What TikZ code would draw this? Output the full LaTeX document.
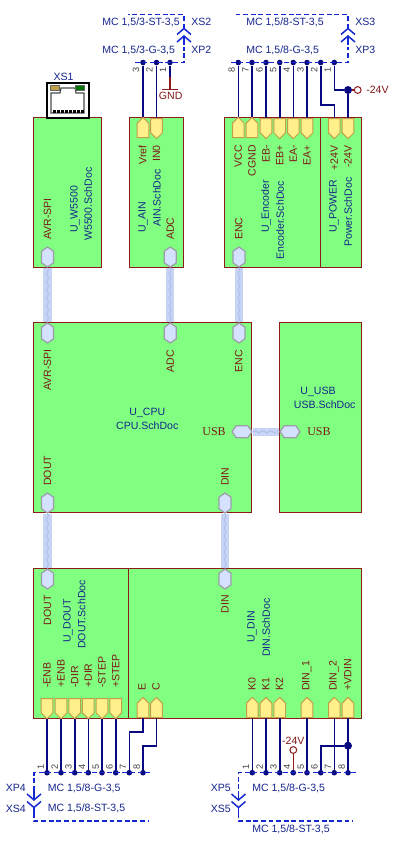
\documentclass[tikz,border=0pt]{standalone}
\usepackage{fontspec}
\setmainfont{Liberation Sans}
\newfontfamily\serifport{Liberation Serif}
\usetikzlibrary{arrows.meta, calc, shapes.symbols, decorations.pathmorphing}
\definecolor{sheetgreen}{HTML}{80FF80}
\definecolor{sheetred}{HTML}{8E1A1A}
\definecolor{pinyellow}{HTML}{FFF08C}
\definecolor{pinedge}{HTML}{C0A048}
\definecolor{hexfill}{HTML}{D4E2FF}
\definecolor{hexedge}{HTML}{9C9CA8}
\definecolor{bundle}{HTML}{C8D4F6}
\definecolor{bundlelay}{HTML}{AEBBE8}
\definecolor{wirenavy}{HTML}{0A0A80}
\definecolor{dashblue}{HTML}{1428D2}
\definecolor{textnavy}{HTML}{14248C}
\definecolor{textred}{HTML}{7E1616}

\begin{document}
\begin{tikzpicture}[x=0.025cm, y=-0.025cm, font=\fontsize{7.5}{9}\selectfont,
  sheet/.style={draw=sheetred, fill=sheetgreen, line width=0.25mm, inner sep=0pt},
  pinup/.style={shape=signal, signal to=north, draw=pinedge, fill=pinyellow, line width=0.25mm,
    minimum width=2.9mm, minimum height=3.6mm, inner sep=0pt, anchor=south},
  pindown/.style={pinup, signal to=south, anchor=north},
  hexv/.style={shape=signal, signal to=north and south, signal pointer angle=110, draw=hexedge, fill=hexfill,
    line width=0.3mm, minimum width=3mm, minimum height=2.9mm, inner sep=0pt},
  hexh/.style={hexv, signal to=east and west, minimum width=5mm, minimum height=3mm},
  lab/.style={text=textred, rotate=90, inner sep=0pt},
  labend/.style={lab, anchor=east},
  labstart/.style={lab, anchor=west},
  des/.style={text=textnavy, inner sep=0pt},
  desv/.style={des, rotate=90, anchor=west},
  pnum/.style={font=\fontsize{6.5}{8}\selectfont, text=black!75, rotate=90, inner sep=0pt},
  jn/.style={circle, fill=wirenavy, minimum size=1.4mm, inner sep=0pt},
  jnbig/.style={jn, minimum size=2mm},
  opn/.style={circle, draw=sheetred, fill=white, line width=0.25mm, minimum size=1.7mm, inner sep=0pt},
  wire/.style={draw=wirenavy, line width=0.4mm},
  rwire/.style={draw=sheetred, line width=0.3mm},
  conbus/.style={draw=dashblue, line width=0.37mm, dash pattern=on 1.2mm off 0.7mm},
  conmark/.style={draw=dashblue, line width=0.37mm},
  harness/.style={draw=bundle, line width=2mm},
  harnesscore/.style={draw=bundlelay, line width=0.2mm, decorate,
    decoration={zigzag, amplitude=0.25mm, segment length=2mm}}]

\useasboundingbox (0,0) rectangle (400,842);

%% ===================== sheets =====================
\node[sheet, minimum width=16.9mm, minimum height=37.4mm] (w5500) at (67.25,192.75) {};
\node[sheet, minimum width=13.5mm, minimum height=37.4mm] (ain) at (156.5,192.75) {};
\node[sheet, minimum width=23.75mm, minimum height=37.4mm] (enc) at (272.5,192.75) {};
\node[sheet, minimum width=10.35mm, minimum height=37.4mm] (power) at (340.75,192.75) {};
\node[sheet, minimum width=54.6mm, minimum height=47.6mm] (cpu) at (142.75,417.75) {};
\node[sheet, minimum width=20.5mm, minimum height=47.6mm] (usb) at (320.5,417.75) {};
\node[sheet, minimum width=23.9mm, minimum height=37.4mm] (dout) at (81.25,643.25) {};
\node[sheet, minimum width=58.2mm, minimum height=37.4mm] (din) at (245.25,643.25) {};

%% ===================== hexagon ports =====================
\node[hexv] (pavrw) at (47.5,257) {};
\node[hexv] (padca) at (170.3,257) {};
\node[hexv] (pence) at (239,257) {};
\node[hexv] (pavrc) at (47.5,333) {};
\node[hexv] (padcc) at (170.3,333) {};
\node[hexv] (pencc) at (239,333) {};
\node[hexv] (pdoutc) at (47.5,503) {};
\node[hexv] (pdinc) at (225,503) {};
\node[hexv] (pdoutd) at (47.5,579) {};
\node[hexv] (pdind) at (225,579) {};
\node[hexh] (pusbc) at (242,431.7) {};
\node[hexh] (pusbu) at (290,431.7) {};

%% bundles between the sheets
\foreach \a/\b in {pavrw/pavrc, padca/padcc, pence/pencc, pdoutc/pdoutd, pdinc/pdind}{
  \draw[harness] (\a.south) -- (\b.north);
  \draw[harnesscore] (\a.south) -- (\b.north);
}
\draw[harness] (pusbc.east) -- (pusbu.west);
\draw[harnesscore] (pusbc.east) -- (pusbu.west);

%% ===================== W5500 =====================
\node[labstart] (tavrw) at (47.5,240) {AVR-SPI};
\node[desv] (dw1) at (75,233) {U\_W5500};
\node[desv] (dw2) at (88,241) {W5500.SchDoc};
\node[des, text=textnavy] (xs1) at (63.5,77) {XS1};

% jack
\node[draw=black, fill=white, line width=0.4mm, minimum width=10.5mm, minimum height=8.6mm, inner sep=0pt] (jack) at (67.8,100.5) {};
\draw[black!70, line width=0.3mm] (51,113) -- (51,93) -- (60,93) -- (61,88) -- (75,88) -- (76,93) -- (84,93) -- (84,113) -- cycle;
\fill[pinedge, draw=black!60, line width=0.1mm] (50,85.5) rectangle (59,90);
\fill[green!45!black, draw=black!60, line width=0.1mm] (75.5,85.5) rectangle (84.5,90);
\foreach \x in {53,57,...,81}{\fill[black] (\x,110) rectangle +(3,2.5);}

%% ===================== AIN =====================
\node[pinup] (pvref) at (143,138) {};
\node[pindown] (pin0) at (156.5,118) {};
\node[labend] (tvref) at (142.7,145) {Vref};
\node[labend] (tin0) at (156.5,145) {IN0};
\node[labstart] (tadca) at (170.3,240) {ADC};
\node[desv] (da1) at (143,233) {U\_AIN};
\node[desv] (da2) at (156.8,227) {AIN.SchDoc};

\foreach \x/\n/\p in {143/3/pvref, 156.5/2/pin0}{
  \node[jn] (xpb\n) at (\x,62.5) {};
  \node[pnum] (nb\n) at (\x-7,70) {\n};
  \draw[wire] (xpb\n) -- (\p.north);
}
\node[jn] (xpb1) at (170,62.5) {};
\node[pnum] (nb1) at (163,70) {1};
\coordinate (gndtop) at (170,77);
\coordinate (gndbar) at (170,89.5);
\draw[wire] (xpb1) -- (gndtop);
\draw[rwire] (gndtop) -- (gndbar);
\draw[rwire] ([xshift=-0.19cm]gndbar) -- ([xshift=0.19cm]gndbar);
\node[des, text=textred] (gnd) at (170.7,96) {GND};

\coordinate (xpbl) at (135,62.5);
\coordinate (xpbr) at (184,62.5);
\coordinate (xstl) at (128,14.5);
\coordinate (xstr) at (184,14.5);
\coordinate (mxs2) at (184,28.5);
\coordinate (mxp2) at (184,36);
\draw[conbus] (xpbl) -- (xpbr) -- (184,47);
\draw[conbus] (mxs2) -- (xstr) -- (xstl);
\draw[conmark] ([shift={(-7,6)}]mxs2) -- (mxs2) -- ([shift={(7,6)}]mxs2);
\draw[conmark] ([shift={(-7,6)}]mxp2) -- (mxp2) -- ([shift={(7,6)}]mxp2);
\draw[conmark] (mxp2) -- ++(0,9);
\node[des, anchor=west] (l1) at (102,22) {MC 1,5/3-ST-3,5};
\node[des, anchor=west] (l2) at (102,50) {MC 1,5/3-G-3,5};
\node[des, anchor=west] (l3) at (191,22) {XS2};
\node[des, anchor=west] (l4) at (191,50) {XP2};

%% ===================== Encoder / Power =====================
\node[pinup] (pvcc) at (238.3,138) {};
\node[pinup] (pcgnd) at (252,138) {};
\foreach \x/\p/\t in {266/pebm/EB-, 279.7/pebp/EB+, 293.3/peam/EA-, 307/peap/EA+, 334.3/pp24/+24V, 348/pm24/-24V}{
  \node[pindown] (\p) at (\x,118) {};
}
\foreach \x/\p/\t in {238.3/pvcc/VCC, 252/pcgnd/CGND, 266/pebm/EB-, 279.7/pebp/EB+, 293.3/peam/EA-, 307/peap/EA+, 334.3/pp24/+24V, 348/pm24/-24V}{
  \node[labend] (t\p) at (\x,145) {\t};
}
\node[labstart] (tenc) at (238.7,240) {ENC};
\node[desv] (de1) at (266,233) {U\_Encoder};
\node[desv] (de2) at (280,260) {Encoder.SchDoc};
\node[desv] (dp1) at (334,233) {U\_POWER};
\node[desv] (dp2) at (348,247) {Power.SchDoc};

\foreach \x/\n in {238.3/8, 252/7, 266/6, 279.7/5, 293.3/4, 307/3, 320.7/2, 334.3/1}{
  \node[jn] (xpc\n) at (\x,62.5) {};
  \node[pnum] (nc\n) at (\x-6.5,70) {\n};
}
\foreach \n/\p in {8/pvcc, 7/pcgnd, 6/pebm, 5/pebp, 4/peam, 3/peap}{
  \draw[wire] (xpc\n) -- (\p.north);
}
\draw[wire] (xpc2) |- (334.3,105) -- (pp24.north);
\node[jnbig] (jm24) at (348,90) {};
\node[opn] (om24) at (357.7,90) {};
\draw[wire] (xpc1) |- (jm24);
\draw[wire] (jm24) -- (pm24.north);
\draw[rwire] (jm24) -- (om24);
\node[des, text=textred, anchor=west] (tm24) at (366,90) {-24V};

\coordinate (xpcl) at (231,62.5);
\coordinate (xpcr) at (348,62.5);
\coordinate (xtcr) at (348,14.5);
\coordinate (xtcl) at (233,14.5);
\coordinate (mxs3) at (348,28.5);
\coordinate (mxp3) at (348,36);
\draw[conbus] (xpcl) -- (xpcr) -- (348,47);
\draw[conbus] (mxs3) -- (xtcr) -- (xtcl);
\draw[conmark] ([shift={(-7,6)}]mxs3) -- (mxs3) -- ([shift={(7,6)}]mxs3);
\draw[conmark] ([shift={(-7,6)}]mxp3) -- (mxp3) -- ([shift={(7,6)}]mxp3);
\draw[conmark] (mxp3) -- ++(0,9);
\node[des, anchor=west] (l5) at (246,22) {MC 1,5/8-ST-3,5};
\node[des, anchor=west] (l6) at (246,50) {MC 1,5/8-G-3,5};
\node[des, anchor=west] (l7) at (355,22) {XS3};
\node[des, anchor=west] (l8) at (355,50) {XP3};

%% ===================== CPU / USB =====================
\node[labend] (tavrc) at (47.5,349) {AVR-SPI};
\node[labend] (tadcc) at (170.3,350) {ADC};
\node[labend] (tencc) at (238.7,350) {ENC};
\node[labstart] (tdoutc) at (47.5,486) {DOUT};
\node[labstart] (tdinc) at (225,486) {DIN};
\node[des] (dc1) at (147.3,412.5) {U\_CPU};
\node[des] (dc2) at (147.3,426) {CPU.SchDoc};
\node[des] (du1) at (318,391.7) {U\_USB};
\node[des] (du2) at (324.7,405) {USB.SchDoc};
\node[text=textred, inner sep=0pt, font=\serifport\fontsize{8.5}{10}\selectfont, anchor=east] (tusbc) at (226,431.7) {USB};
\node[text=textred, inner sep=0pt, font=\serifport\fontsize{8.5}{10}\selectfont, anchor=west] (tusbu) at (307,431.7) {USB};

%% ===================== DOUT =====================
\node[labend] (tdoutd) at (47.5,595) {DOUT};
\node[desv] (dd1) at (68,643) {U\_DOUT};
\node[desv] (dd2) at (81.5,649) {DOUT.SchDoc};

\foreach \x/\n/\t in {47/1/-ENB, 61/2/+ENB, 74.7/3/-DIR, 88.3/4/+DIR, 102/5/-STEP, 115.7/6/+STEP}{
  \node[pindown] (pd\n) at (\x,698) {};
  \node[labstart] (tpd\n) at (\x,688) {\t};
  \node[jn] (xpd\n) at (\x,772.7) {};
  \node[pnum] (nd\n) at (\x-6.3,766.5) {\n};
  \draw[wire] (pd\n.south) -- (xpd\n);
}
\foreach \x/\n in {129.3/7, 143/8}{
  \node[jn] (xpd\n) at (\x,772.7) {};
  \node[pnum] (nd\n) at (\x-6.3,766.5) {\n};
}
\node[pinup] (pe) at (143,718) {};
\node[pinup] (pc) at (156.5,718) {};
\node[labstart] (tpe) at (142,691) {E};
\node[labstart] (tpc) at (156,691) {C};
\draw[wire] (pe.south) -- (143,732) -| (xpd7);
\draw[wire] (pc.south) -- (156.5,745.7) -| (xpd8);

\coordinate (xpdr) at (150,772.7);
\coordinate (xpdl) at (34,772.7);
\coordinate (xsdl) at (34,821);
\coordinate (xsdr) at (148,821);
\coordinate (mxp4) at (34,800);
\coordinate (mxs4) at (34,807.5);
\draw[conbus] (xpdr) -- (xpdl) -- (mxp4);
\draw[conbus] (34,813) -- (xsdl) -- (xsdr);
\draw[conmark] ([shift={(-7,-6)}]mxp4) -- (mxp4) -- ([shift={(7,-6)}]mxp4);
\draw[conmark] ([shift={(-7,-6)}]mxs4) -- (mxs4) -- ([shift={(7,-6)}]mxs4);
\draw[conmark] (mxs4) -- ++(0,7);
\draw[conmark] (mxp4) -- ++(0,-9);
\node[des, anchor=west] (l9) at (47.5,788) {MC 1,5/8-G-3,5};
\node[des, anchor=west] (l10) at (47.5,808.5) {MC 1,5/8-ST-3,5};
\node[des, anchor=east] (l11) at (26,788) {XP4};
\node[des, anchor=east] (l12) at (26,808.5) {XS4};

%% ===================== DIN =====================
\node[labend] (tdind) at (225,595) {DIN};
\node[desv] (dn1) at (252,643) {U\_DIN};
\node[desv] (dn2) at (266,657) {DIN.SchDoc};

\foreach \x/\n in {252.3/1, 266/2, 279.7/3, 293.3/4, 307/5, 320.7/6, 334.3/7, 348/8}{
  \node[jn] (xpe\n) at (\x,772.7) {};
  \node[pnum] (ne\n) at (\x-6.3,766.5) {\n};
}
\foreach \x/\n/\p/\t in {252.3/1/pk0/K0, 266/2/pk1/K1, 279.7/3/pk2/K2, 307/5/pdi1/DIN\_1, 334.3/7/pdi2/DIN\_2, 348/8/pvd/+VDIN}{
  \node[pinup] (\p) at (\x,718) {};
  \node[labstart] (t\p) at (\x-0.3,691) {\t};
  \draw[wire] (\p.south) -- (xpe\n);
}
\node[opn] (om24b) at (293.3,750) {};
\node[des, text=textred] (tm24b) at (293.3,741) {-24V};
\draw[rwire] (om24b) -- (xpe4);
\node[jnbig] (jvd) at (348,745.7) {};
\draw[wire] (xpe6) |- (jvd);

\coordinate (xper) at (356,772.7);
\coordinate (xpel) at (238.5,772.7);
\coordinate (xsel) at (238.5,821);
\coordinate (xser) at (353,821);
\coordinate (mxp5) at (238.5,800);
\coordinate (mxs5) at (238.5,807.5);
\draw[conbus] (xper) -- (xpel) -- (mxp5);
\draw[conbus] (238.5,813) -- (xsel) -- (xser);
\draw[conmark] ([shift={(-7,-6)}]mxp5) -- (mxp5) -- ([shift={(7,-6)}]mxp5);
\draw[conmark] ([shift={(-7,-6)}]mxs5) -- (mxs5) -- ([shift={(7,-6)}]mxs5);
\draw[conmark] (mxs5) -- ++(0,7);
\draw[conmark] (mxp5) -- ++(0,-9);
\node[des, anchor=west] (l13) at (252,788) {MC 1,5/8-G-3,5};
\node[des, anchor=west] (l14) at (252,829) {MC 1,5/8-ST-3,5};
\node[des, anchor=east] (l15) at (231,788) {XP5};
\node[des, anchor=east] (l16) at (231,808.5) {XS5};

\end{tikzpicture}
\end{document}
